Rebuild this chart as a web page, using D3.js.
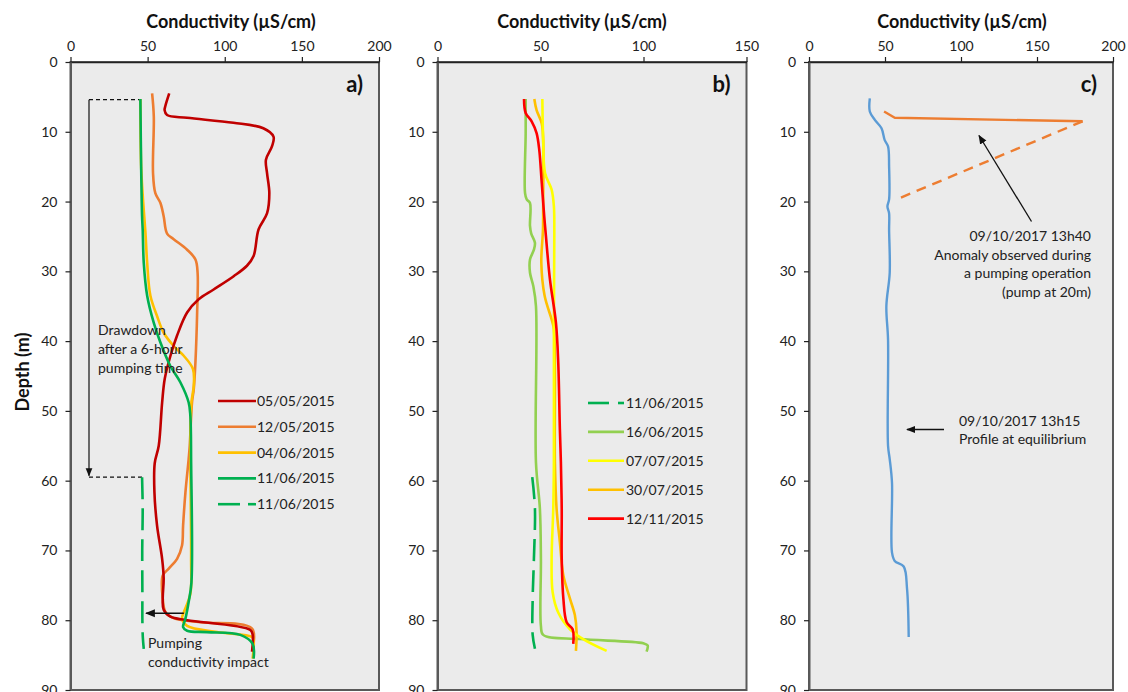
<!DOCTYPE html>
<html>
<head>
<meta charset="utf-8">
<script src="https://cdn.jsdelivr.net/npm/d3@7"></script>
<style>
html,body{margin:0;padding:0;background:#fff;}
svg{display:block;font-family:Lato,"Open Sans",sans-serif;}
</style>
</head>
<body>
<svg id="chart" width="1128" height="692"></svg>
<script>
// ---------- DATA : [conductivity (µS/cm), depth (m)] ----------
const depthTicks = [0,10,20,30,40,50,60,70,80,90];
const condTicksA = [0,50,100,150,200];
const condTicksB = [0,50,100,150];
const condTicksC = [0,50,100,150,200];

// Panel a
const a_05_05_2015 = [[64,4.5],[61.5,6.3],[61,6.9],[62.6,7.6],[75.6,8.0],[105.6,8.7],[125,9.5],[131.6,10.7],[130.6,12.1],[126.7,14],[127.4,15.9],[128.9,18.8],[127.4,21.7],[121.9,24],[118.7,27.8],[114.4,29.2],[105.8,30.7],[92.8,32.6],[83.1,34],[75.6,35.9],[69.1,39.2],[64.8,42.1],[61.1,45.4],[59.4,48.8],[57.2,55],[54.6,57.5],[54.4,61.6],[56.1,66.4],[59.4,71.2],[60.4,74],[59.8,76.9],[60.4,78.5],[64.8,79.5],[75.6,80],[116.6,81.4],[118.1,82.1],[117.7,84.5]];
const a_12_05_2015 = [[52.9,4.5],[54,7.8],[53.5,15.9],[55,18.8],[58.3,20.2],[60.4,22.1],[62.6,24.6],[66.9,25.4],[75.6,26.9],[81,28.3],[82.4,30.2],[82.1,35.9],[81,43],[79.9,46.9],[78.8,48.7],[77.3,55],[76.6,56.9],[74.5,61.7],[73,66.4],[72.3,69.3],[69.1,71.2],[63.7,72.6],[59.8,73.6],[59.8,76.9],[61.5,78.8],[66.9,79.7],[84.2,80.3],[117.7,81.2],[117.7,84.5]];
const a_04_06_2015 = [[45.3,5.3],[45.8,15],[47,19.7],[48.6,24.5],[49.7,28.8],[51.8,33.5],[56.1,36.4],[60.4,38.8],[66.9,40.7],[73.4,42.1],[79.4,44],[79.9,46.4],[78.4,48.8],[77.7,53],[77.7,56.9],[78.2,71.2],[77.7,76.2],[73.4,78.9],[72.3,79.8],[75.6,80.8],[95,81.7],[117.7,82.4],[118.7,82.9],[118.1,85.5]];
const a_11_06_2015 = [[45.3,5.3],[45.8,15],[46.4,22.1],[46.8,24],[47.5,28.8],[49.7,33.5],[54,37.4],[58.3,40.2],[64.8,43.6],[71.2,45.9],[76.6,48.8],[77.7,50.7],[78.2,57.4],[78.4,74.6],[76.6,77.4],[74.5,79.8],[73,81],[75.6,81.5],[88.5,81.7],[110.1,82.1],[118.1,83.4],[118.7,85.5]];
const a_11_06_2015_dash = [[46.4,59.5],[46.8,64],[46.5,70],[46.6,76],[46.6,80],[46.9,82.5],[47.5,84.1]];

// Panel b
const b_11_06_2015_dash = [[46,59.5],[47.3,64],[46.8,71.2],[46.2,76.9],[46.2,82.1],[47.3,84.1]];
const b_16_06_2015 = [[42.8,5.3],[42.8,10.2],[42.5,18.8],[43.3,19.7],[44.9,20.2],[44.9,23.5],[45.5,24.6],[47.3,25.9],[46.8,26.9],[44.9,28.3],[44.9,30.2],[46.5,32.1],[47.8,35],[47.8,57.4],[49.7,64],[50.2,71.2],[50.2,80.8],[51.3,82.1],[69.1,82.7],[99.9,83.3],[102,83.6],[101.5,84.5]];
const b_07_07_2015 = [[50.9,5.3],[51.3,11.2],[52.2,15.9],[55.4,18.3],[56.5,20.7],[56.7,24.5],[56.5,38.3],[56.5,57.4],[56.2,64],[55.4,71.2],[55.9,76],[58.6,78.9],[64.3,81.3],[70.7,82.7],[82.1,84.4]];
const b_30_07_2015 = [[47,5.3],[48.1,6.9],[50.6,8.8],[51.3,11.2],[51.3,19.7],[51.2,24],[50.4,28.8],[52,33.5],[55.4,36.9],[56.5,38.3],[57,57.4],[57.8,64],[59.4,68.8],[61.1,73.6],[64.3,76.9],[66.7,79.3],[67.5,81.7],[67.2,84.4]];
const b_12_11_2015 = [[42,5.3],[42.8,7.3],[45.7,8.5],[48.1,10.2],[49.4,12.6],[50.6,17.3],[51.8,22.1],[52.5,24.5],[54.6,31.2],[57.5,37.4],[58.6,43],[59.4,52.6],[59.9,57.4],[60.3,64],[60.3,71.2],[61.1,76.9],[62.7,80.3],[65.6,81.3],[65.9,83.4]];

// Panel c
const c_13h15 = [[40,5.2],[40,7.1],[43.3,8.3],[47.7,9.5],[49.8,11.2],[52,12.1],[52.7,15],[52.7,19.7],[51.6,20.7],[52.7,21.7],[52.7,24],[53.1,30.2],[50.9,35],[52,39.8],[52,55],[53.1,56.9],[54.6,60.3],[54.6,70.3],[56.4,71.5],[62.3,72.3],[64.5,75.5],[65.6,82.4]];
const c_13h40 = [[49.4,7.1],[56.4,8.0],[180,8.5]];
const c_13h40_dash = [[180,8.5],[57.5,19.7]];

// Legends
const legendA = ["05/05/2015","12/05/2015","04/06/2015","11/06/2015","11/06/2015"];
const legendB = ["11/06/2015","16/06/2015","07/07/2015","30/07/2015","12/11/2015"];

// ---------- DRAWING ----------
const svg = d3.select("#chart");
const plotTop = 62, plotBottom = 690;
const y = d3.scaleLinear().domain([0,90]).range([plotTop,plotBottom]);
const FONT = "Lato,'Open Sans',sans-serif";

const panels = [
  {id:"a", x0:70.5, x1:379, max:200, ticks:condTicksA, label:"a)", tx:231},
  {id:"b", x0:437.5, x1:746.5, max:150, ticks:condTicksB, label:"b)", tx:582},
  {id:"c", x0:809, x1:1113, max:200, ticks:condTicksC, label:"c)", tx:962}
];

const line = (xs) => d3.line().x(d=>xs(d[0])).y(d=>y(d[1])).curve(d3.curveCatmullRom.alpha(0.5));
const lineLin = (xs) => d3.line().x(d=>xs(d[0])).y(d=>y(d[1]));

const scales = {};
panels.forEach(p=>{
  const xs = d3.scaleLinear().domain([0,p.max]).range([p.x0,p.x1]);
  scales[p.id]=xs;
  const g = svg.append("g");
  g.append("rect").attr("x",p.x0).attr("y",plotTop).attr("width",p.x1-p.x0).attr("height",plotBottom-plotTop)
    .attr("fill","#ebebeb").attr("stroke","#595959").attr("stroke-width",2);
  const ax = g.append("g").attr("transform",`translate(0,${plotTop})`)
    .call(d3.axisTop(xs).tickValues(p.ticks).tickSize(5).tickSizeOuter(0).tickPadding(6));
  ax.select(".domain").attr("stroke","#222").attr("stroke-width",1.6);
  ax.selectAll(".tick line").attr("stroke","#222").attr("stroke-width",1.2);
  ax.selectAll("text").attr("font-size",14).attr("fill","#222").attr("font-family",FONT);
  const ay = g.append("g").attr("transform",`translate(${p.x0},0)`)
    .call(d3.axisLeft(y).tickValues(depthTicks).tickSize(5).tickSizeOuter(0).tickPadding(8));
  ay.select(".domain").attr("stroke","#595959").attr("stroke-width",2);
  ay.selectAll(".tick line").attr("stroke","#222").attr("stroke-width",1.2);
  ay.selectAll("text").attr("font-size",14).attr("fill","#222").attr("font-family",FONT);
  g.append("text").attr("x",p.tx).attr("y",28).attr("text-anchor","middle")
    .attr("font-size",18).attr("font-weight","bold").attr("fill","#111").text("Conductivity (µS/cm)");
  g.append("text").attr("x",p.x1-16).attr("y",92).attr("text-anchor","end")
    .attr("font-size",22).attr("font-weight","bold").attr("fill","#111").text(p.label);
});

svg.append("text").attr("transform","translate(29,372) rotate(-90)").attr("text-anchor","middle")
  .attr("font-size",18).attr("font-weight","bold").attr("fill","#111").text("Depth (m)");

const defs = svg.append("defs");
defs.append("marker").attr("id","arr").attr("viewBox","0 0 10 10").attr("refX",9).attr("refY",5)
  .attr("markerWidth",7).attr("markerHeight",7).attr("orient","auto-start-reverse")
  .append("path").attr("d","M0,1 L10,5 L0,9 Z").attr("fill","#111");

function draw(id, data, color, opts={}){
  const xs = scales[id];
  const p = svg.append("path").datum(data)
    .attr("d", (opts.linear?lineLin(xs):line(xs)))
    .attr("fill","none").attr("stroke",color).attr("stroke-width",opts.w||2.6)
    .attr("stroke-linejoin","round").attr("stroke-linecap","butt");
  if(opts.dash) p.attr("stroke-dasharray",opts.dash);
}

// ---- panel a ----
const xa = scales.a;
svg.append("line").attr("x1",89).attr("x2",xa(45.3)).attr("y1",y(5.4)).attr("y2",y(5.4))
  .attr("stroke","#111").attr("stroke-width",1.2).attr("stroke-dasharray","4,3");
svg.append("line").attr("x1",89).attr("x2",xa(46.4)).attr("y1",y(59.5)).attr("y2",y(59.5))
  .attr("stroke","#111").attr("stroke-width",1.2).attr("stroke-dasharray","4,3");
svg.append("line").attr("x1",89).attr("x2",89).attr("y1",y(5.4)).attr("y2",y(59.3))
  .attr("stroke","#111").attr("stroke-width",1.2).attr("marker-end","url(#arr)");

draw("a", a_12_05_2015, "#ed7d31");
draw("a", a_04_06_2015, "#ffc000");
draw("a", a_05_05_2015, "#c00000");
draw("a", a_11_06_2015, "#00b050");
draw("a", a_11_06_2015_dash, "#00b050", {dash:"22,9"});

svg.append("line").attr("x1",xa(73.5)).attr("x2",xa(49)).attr("y1",y(79)).attr("y2",y(79))
  .attr("stroke","#111").attr("stroke-width",1.4).attr("marker-end","url(#arr)");

const noteA = svg.append("g").attr("font-size",14).attr("fill","#222");
noteA.append("text").attr("x",148).attr("y",648).text("Pumping");
noteA.append("text").attr("x",148).attr("y",667).text("conductivity impact");
noteA.append("text").attr("x",98).attr("y",335).text("Drawdown");
noteA.append("text").attr("x",98).attr("y",354).text("after a 6-hour");
noteA.append("text").attr("x",98).attr("y",373).text("pumping time");

const legAColors = ["#c00000","#ed7d31","#ffc000","#00b050","#00b050"];
legendA.forEach((t,i)=>{
  const yy = 401 + i*25.8;
  if(i===4){
    svg.append("line").attr("x1",218).attr("x2",240).attr("y1",yy).attr("y2",yy).attr("stroke",legAColors[i]).attr("stroke-width",2.6);
    svg.append("line").attr("x1",248).attr("x2",256).attr("y1",yy).attr("y2",yy).attr("stroke",legAColors[i]).attr("stroke-width",2.6);
  } else {
    svg.append("line").attr("x1",218).attr("x2",256).attr("y1",yy).attr("y2",yy).attr("stroke",legAColors[i]).attr("stroke-width",2.6);
  }
  svg.append("text").attr("x",257).attr("y",yy+5).attr("font-size",14).attr("fill","#222").text(t);
});

// ---- panel b ----
draw("b", b_16_06_2015, "#92d050");
draw("b", b_30_07_2015, "#ffc000");
draw("b", b_07_07_2015, "#ffff00");
draw("b", b_12_11_2015, "#ff0000");
draw("b", b_11_06_2015_dash, "#00b050", {dash:"22,9"});

const legBColors = ["#00b050","#92d050","#ffff00","#ffc000","#ff0000"];
legendB.forEach((t,i)=>{
  const yy = 403 + i*28.9;
  if(i===0){
    svg.append("line").attr("x1",588).attr("x2",609).attr("y1",yy).attr("y2",yy).attr("stroke",legBColors[i]).attr("stroke-width",2.6);
    svg.append("line").attr("x1",618).attr("x2",624).attr("y1",yy).attr("y2",yy).attr("stroke",legBColors[i]).attr("stroke-width",2.6);
  } else {
    svg.append("line").attr("x1",588).attr("x2",624).attr("y1",yy).attr("y2",yy).attr("stroke",legBColors[i]).attr("stroke-width",2.6);
  }
  svg.append("text").attr("x",626).attr("y",yy+5).attr("font-size",14).attr("fill","#222").text(t);
});

// ---- panel c ----
draw("c", c_13h15, "#5b9bd5", {w:2.4});
draw("c", c_13h40, "#ed7d31", {linear:true, w:2.4});
draw("c", c_13h40_dash, "#ed7d31", {linear:true, w:2.4, dash:"10,7"});

svg.append("line").attr("x1",1031.5).attr("y1",221.5).attr("x2",979).attr("y2",135.5)
  .attr("stroke","#111").attr("stroke-width",1.3).attr("marker-end","url(#arr)");
svg.append("line").attr("x1",944).attr("y1",429.5).attr("x2",907).attr("y2",429.5)
  .attr("stroke","#111").attr("stroke-width",1.3).attr("marker-end","url(#arr)");

const noteC = svg.append("g").attr("font-size",14).attr("fill","#222");
["09/10/2017 13h40","Anomaly observed during","a pumping operation","(pump at 20m)"].forEach((t,i)=>{
  noteC.append("text").attr("x",1091).attr("y",241+i*18.5).attr("text-anchor","end").text(t);
});
noteC.append("text").attr("x",959).attr("y",426).text("09/10/2017 13h15");
noteC.append("text").attr("x",959).attr("y",444).text("Profile at equilibrium");
</script>
</body>
</html>
